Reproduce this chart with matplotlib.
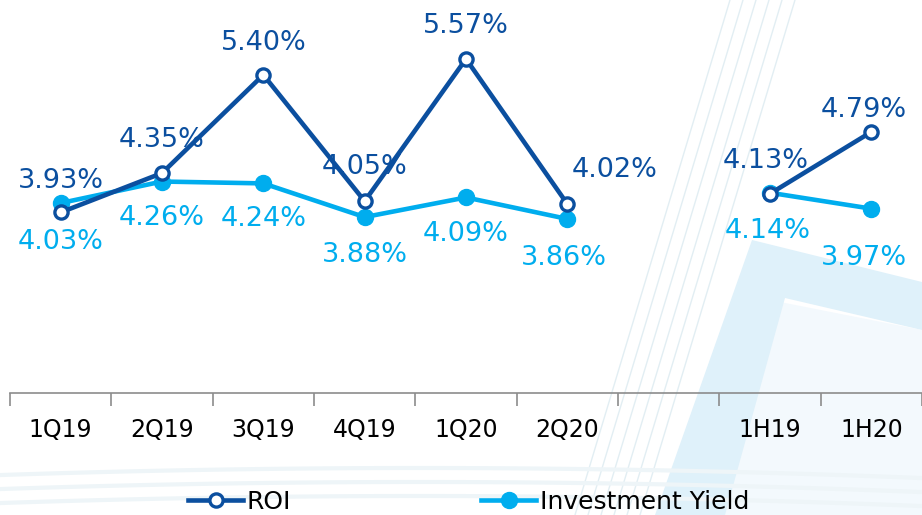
import matplotlib.pyplot as plt
import numpy as np
from matplotlib.patches import Polygon

# data
periods = ['1Q19', '2Q19', '3Q19', '4Q19', '1Q20', '2Q20', '', '1H19', '1H20']
roi = [3.93, 4.35, 5.40, 4.05, 5.57, 4.02, np.nan, 4.13, 4.79]
inv_yield = [4.03, 4.26, 4.24, 3.88, 4.09, 3.86, np.nan, 4.14, 3.97]

# label offsets in pixels (dx, dy) from each point
roi_offsets = [(0, 31), (0, 33), (0, 32), (0, 34), (0, 33), (47, 34), None, (-4, 33), (-8, 22)]
yield_offsets = [(0, -39), (0, -36), (0, -36), (0, -38), (0, -37), (-3, -39), None, (-2, -38), (-7, -49)]

DARK = '#0b4f9f'
LIGHT = '#00adee'
W, H = 922, 515

plt.rcParams['font.family'] = ['DejaVu Sans']

fig = plt.figure(figsize=(W / 100, H / 100), dpi=100)

def px(pts):  # pixel coords (from top-left) -> figure fraction
    return [(a / W, 1 - b / H) for a, b in pts]

# faint watermark in the background
fig.patches.append(Polygon(px([(700, 515), (770, 300), (922, 330), (922, 515)]),
                           closed=True, transform=fig.transFigure, fc='#f3f9fd', ec='none', zorder=-2))
fig.patches.append(Polygon(px([(655, 515), (752, 240), (922, 282), (922, 330), (785, 298), (725, 515)]),
                           closed=True, transform=fig.transFigure, fc='#dff1fa', ec='none', zorder=-2))
for k in range(6):
    fig.lines.append(plt.Line2D([(730 + 13 * k) / W, (575 + 13 * k) / W], [1, 0],
                                transform=fig.transFigure, color='#e2eef3', lw=1.0, zorder=-1))
for k in range(3):
    t = np.linspace(0, W, 100)
    yy = 468 + 14 * k + 0.00004 * (t - 420) ** 2
    fig.lines.append(plt.Line2D(t / W, 1 - yy / H, transform=fig.transFigure,
                                color='#eef5f8', lw=3.0, zorder=-1))

ax = fig.add_axes([10 / W, 1 - 393 / H, 912 / W, 393 / H])
ax.set_zorder(1)
ax.patch.set_alpha(0)

x = np.arange(len(periods))
ax.plot(x, inv_yield, color=LIGHT, lw=3.3, marker='o', ms=11.5,
        markerfacecolor=LIGHT, markeredgecolor=LIGHT, zorder=3, label='Investment Yield')
ax.plot(x, roi, color=DARK, lw=3.3, marker='o', ms=9.5, markeredgewidth=2.4,
        markerfacecolor='white', markeredgecolor=DARK, zorder=4, label='ROI')

for i in range(len(periods)):
    if roi_offsets[i] is not None:
        ax.annotate(f'{roi[i]:.2f}%', (x[i], roi[i]), xytext=roi_offsets[i],
                    textcoords='offset pixels', ha='center', va='center',
                    fontsize=19.5, color=DARK, zorder=5, annotation_clip=False)
    if yield_offsets[i] is not None:
        ax.annotate(f'{inv_yield[i]:.2f}%', (x[i], inv_yield[i]), xytext=yield_offsets[i],
                    textcoords='offset pixels', ha='center', va='center',
                    fontsize=19.5, color=LIGHT, zorder=5, annotation_clip=False)

ax.set_xlim(-0.5, -0.5 + 912 / 102.4)
ax.set_ylim(2.0, 6.2)
ax.set_yticks([])
for s in ['top', 'right', 'left']:
    ax.spines[s].set_visible(False)
ax.spines['bottom'].set_color('#8c8c8c')
ax.spines['bottom'].set_linewidth(1.2)

ax.set_xticks(x)
ax.set_xticklabels(periods, fontsize=17)
ax.tick_params(axis='x', which='major', length=0, pad=18)
ax.set_xticks(np.arange(len(periods) + 1) - 0.5, minor=True)
ax.tick_params(axis='x', which='minor', length=9, width=1.2, color='#8c8c8c', direction='out')

h, l = ax.get_legend_handles_labels()
leg = fig.legend([h[1], h[0]], [l[1], l[0]], loc='center left', bbox_to_anchor=(188 / W, 1 - 502 / H),
                 ncol=2, frameon=False, fontsize=18, handlelength=2.2, handletextpad=0.15,
                 columnspacing=7.6, borderpad=0, borderaxespad=0)
leg.set_zorder(2)

fig.savefig('out.png', dpi=100)
